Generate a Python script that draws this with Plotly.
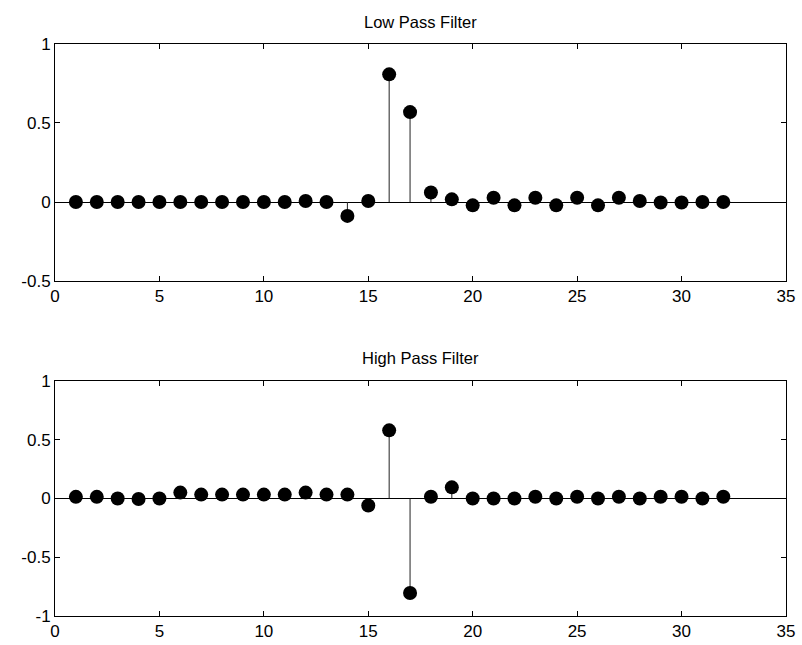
import plotly.graph_objects as go

n = list(range(1, 33))
low_pass = [0.0, 0.0, 0.0, 0.0, 0.0, 0.0, 0.0, 0.0, 0.0, 0.0, 0.0, 0.006, 0.0, -0.088, 0.006,
            0.808, 0.569, 0.06, 0.017, -0.021, 0.027, -0.021, 0.027, -0.021, 0.027, -0.021,
            0.027, 0.006, -0.003, -0.003, 0.0, 0.0]
high_pass = [0.014, 0.014, 0.0, -0.005, 0.0, 0.05, 0.033, 0.033, 0.033, 0.033, 0.033, 0.05,
             0.033, 0.033, -0.06, 0.58, -0.805, 0.015, 0.095, 0.0, 0.0, 0.0, 0.015, 0.0, 0.015,
             0.0, 0.015, 0.0, 0.015, 0.015, 0.0, 0.015]
titles = ["Low Pass Filter", "High Pass Filter"]
x_ticks = [0, 5, 10, 15, 20, 25, 30, 35]
y_ticks_top = [-0.5, 0, 0.5, 1]
y_ticks_bot = [-1, -0.5, 0, 0.5, 1]
y_labels_top = ["-0.5", "0", "0.5", "1"]
y_labels_bot = ["-1", "-0.5", "0", "0.5", "1"]

fig = go.Figure()

def add_stem(xs, ys, xa, ya):
    sx, sy = [], []
    for xv, yv in zip(xs, ys):
        sx += [xv, xv, None]
        sy += [0, yv, None]
    fig.add_trace(go.Scatter(x=sx, y=sy, mode="lines", line=dict(color="#222222", width=1),
                             xaxis=xa, yaxis=ya, showlegend=False, hoverinfo="skip"))
    fig.add_trace(go.Scatter(x=xs, y=ys, mode="markers",
                             marker=dict(color="black", size=14, line=dict(width=0)),
                             xaxis=xa, yaxis=ya, showlegend=False))

add_stem(n, low_pass, "x", "y")
add_stem(n, high_pass, "x2", "y2")

font = dict(family="Liberation Sans, Arial, sans-serif", size=17, color="black")
title_font = dict(family="Liberation Sans, Arial, sans-serif", size=16.5, color="black")
axis_common = dict(showline=True, linecolor="black", linewidth=1, mirror="ticks",
                   ticks="inside", ticklen=5, tickcolor="black", showgrid=False,
                   tickfont=font, automargin=False)

fig.update_layout(
    template="none",
    width=802, height=645, margin=dict(l=0, r=0, t=0, b=0, pad=0),
    plot_bgcolor="white", paper_bgcolor="white", font=font,
    xaxis=dict(domain=[0.0686, 0.980], range=[0, 35], tickvals=x_ticks, anchor="y",
               zeroline=False, **axis_common),
    yaxis=dict(domain=[0.5643, 0.9318], range=[-0.5, 1], tickvals=y_ticks_top,
               ticktext=y_labels_top, anchor="x",
               zeroline=True, zerolinecolor="black", zerolinewidth=1, **axis_common),
    xaxis2=dict(domain=[0.0686, 0.980], range=[0, 35], tickvals=x_ticks, anchor="y2",
                zeroline=False, **axis_common),
    yaxis2=dict(domain=[0.045, 0.4093], range=[-1, 1], tickvals=y_ticks_bot,
                ticktext=y_labels_bot, anchor="x2",
                zeroline=True, zerolinecolor="black", zerolinewidth=1, **axis_common),
    annotations=[
        dict(text=titles[0], x=0.5243, y=0.9318, xref="paper", yref="paper",
             xanchor="center", yanchor="bottom", yshift=11, showarrow=False, font=title_font),
        dict(text=titles[1], x=0.5243, y=0.4093, xref="paper", yref="paper",
             xanchor="center", yanchor="bottom", yshift=12, showarrow=False, font=title_font),
    ],
)

fig.write_html("out.html",
               post_script="document.body.style.margin='0';document.body.style.overflow='hidden';")
